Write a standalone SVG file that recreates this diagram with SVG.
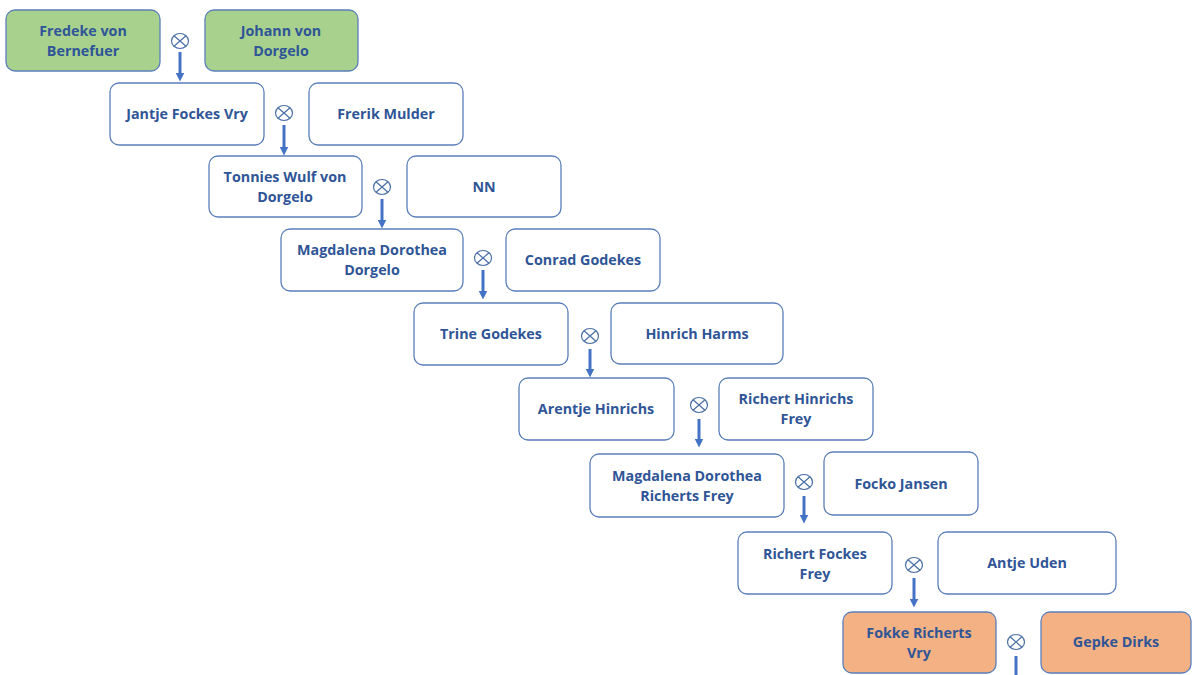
<svg xmlns="http://www.w3.org/2000/svg" width="1192" height="675" viewBox="0 0 1192 675">
<style>
.n{fill:#fff;stroke:#5b7fba;stroke-width:1.3}
.g{fill:#a9d18e}
.o{fill:#f4b183}
.t{font-family:"Open Sans","Liberation Sans",sans-serif;font-weight:bold;font-size:14.3px;fill:#2f5597;text-anchor:middle}
.m{fill:#fff;stroke:#4a6fa5;stroke-width:1.2}
.a{stroke:#4472c4;stroke-width:3;fill:none}
</style>
<defs>
<marker id="ah" markerWidth="3" markerHeight="3" refX="1.5" refY="1.5" orient="auto" markerUnits="strokeWidth">
<path d="M0,0 L3,1.5 L0,3 z" fill="#4472c4"/>
</marker>
<g id="x"><ellipse class="m" cx="0" cy="0" rx="8.5" ry="7.5"/><path d="M-6,-5.3 L6,5.3 M-6,5.3 L6,-5.3" stroke="#4a6fa5" stroke-width="1.2"/></g>
</defs>
<rect width="1192" height="675" fill="#fff"/>
<g id="connectors">
<line class="a" x1="180" y1="52" x2="180" y2="77" marker-end="url(#ah)"/>
<line class="a" x1="284" y1="125" x2="284" y2="151" marker-end="url(#ah)"/>
<line class="a" x1="382" y1="199" x2="382" y2="224" marker-end="url(#ah)"/>
<line class="a" x1="483" y1="270" x2="483" y2="295" marker-end="url(#ah)"/>
<line class="a" x1="590" y1="349" x2="590" y2="373" marker-end="url(#ah)"/>
<line class="a" x1="699" y1="419" x2="699" y2="443" marker-end="url(#ah)"/>
<line class="a" x1="804" y1="496" x2="804" y2="519" marker-end="url(#ah)"/>
<line class="a" x1="914" y1="578" x2="914" y2="603" marker-end="url(#ah)"/>
<line class="a" x1="1016" y1="656" x2="1016" y2="675"/>
<use href="#x" x="180" y="41"/>
<use href="#x" x="284" y="113"/>
<use href="#x" x="382" y="187"/>
<use href="#x" x="483" y="258"/>
<use href="#x" x="590" y="336"/>
<use href="#x" x="699" y="405"/>
<use href="#x" x="804" y="482"/>
<use href="#x" x="914" y="565"/>
<use href="#x" x="1016" y="642"/>
</g>
<g id="n1"><rect class="n g" x="6" y="10" width="154" height="61" rx="9"/><text class="t" x="83" y="36">Fredeke von</text><text class="t" x="83" y="56">Bernefuer</text></g>
<g id="n2"><rect class="n g" x="205" y="10" width="153" height="61" rx="9"/><text class="t" x="281" y="36">Johann von</text><text class="t" x="281" y="56">Dorgelo</text></g>
<g id="n3"><rect class="n" x="110" y="83" width="154" height="62" rx="9"/><text class="t" x="187" y="119">Jantje Fockes Vry</text></g>
<g id="n4"><rect class="n" x="309" y="83" width="154" height="62" rx="9"/><text class="t" x="386" y="119">Frerik Mulder</text></g>
<g id="n5"><rect class="n" x="209" y="156" width="153" height="61" rx="9"/><text class="t" x="285" y="182">Tonnies Wulf von</text><text class="t" x="285" y="202">Dorgelo</text></g>
<g id="n6"><rect class="n" x="407" y="156" width="154" height="61" rx="9"/><text class="t" x="484" y="192">NN</text></g>
<g id="n7"><rect class="n" x="281" y="229" width="182" height="62" rx="9"/><text class="t" x="372" y="255">Magdalena Dorothea</text><text class="t" x="372" y="275">Dorgelo</text></g>
<g id="n8"><rect class="n" x="506" y="229" width="154" height="62" rx="9"/><text class="t" x="583" y="265">Conrad Godekes</text></g>
<g id="n9"><rect class="n" x="414" y="303" width="154" height="62" rx="9"/><text class="t" x="491" y="339">Trine Godekes</text></g>
<g id="n10"><rect class="n" x="611" y="303" width="172" height="61" rx="9"/><text class="t" x="697" y="339">Hinrich Harms</text></g>
<g id="n11"><rect class="n" x="519" y="378" width="155" height="62" rx="9"/><text class="t" x="596" y="414">Arentje Hinrichs</text></g>
<g id="n12"><rect class="n" x="719" y="378" width="154" height="62" rx="9"/><text class="t" x="796" y="404">Richert Hinrichs</text><text class="t" x="796" y="424">Frey</text></g>
<g id="n13"><rect class="n" x="590" y="454" width="194" height="63" rx="9"/><text class="t" x="687" y="481">Magdalena Dorothea</text><text class="t" x="687" y="501">Richerts Frey</text></g>
<g id="n14"><rect class="n" x="824" y="452" width="154" height="63" rx="9"/><text class="t" x="901" y="489">Focko Jansen</text></g>
<g id="n15"><rect class="n" x="738" y="532" width="154" height="62" rx="9"/><text class="t" x="815" y="559">Richert Fockes</text><text class="t" x="815" y="579">Frey</text></g>
<g id="n16"><rect class="n" x="938" y="532" width="178" height="62" rx="9"/><text class="t" x="1027" y="568">Antje Uden</text></g>
<g id="n17"><rect class="n o" x="843" y="612" width="153" height="61" rx="9"/><text class="t" x="919" y="638">Fokke Richerts</text><text class="t" x="919" y="658">Vry</text></g>
<g id="n18"><rect class="n o" x="1041" y="612" width="150" height="61" rx="9"/><text class="t" x="1116" y="647">Gepke Dirks</text></g>
</svg>
